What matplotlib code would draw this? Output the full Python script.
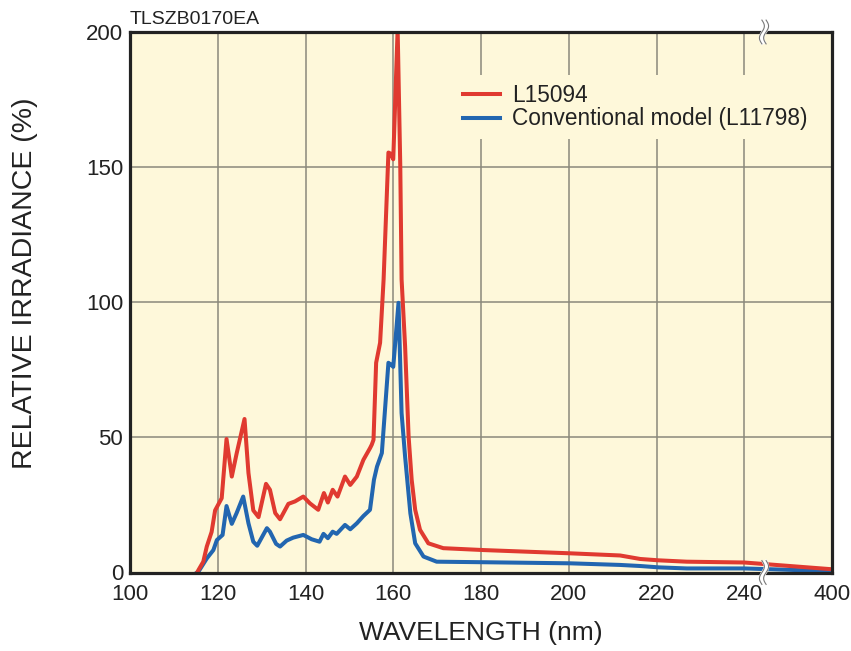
import numpy as np
import matplotlib
matplotlib.use("Agg")
import matplotlib.pyplot as plt

plt.rcParams['font.family'] = ['Liberation Sans', 'DejaVu Sans']

# ---- data ----
red_wl = [115.3, 115.6, 116.7, 117.5, 118.6, 119.4, 120.9, 122.0, 123.2, 124.3, 126.1, 127.0,
          128.1, 129.3, 131.0, 131.9, 133.1, 134.2, 136.1, 137.6, 139.5, 141.0, 142.9, 144.2,
          145.1, 146.2, 147.3, 149.0, 150.2, 151.7, 153.2, 154.7, 155.1, 155.5, 156.1, 157.0,
          157.8, 158.9, 159.4, 160.0, 161.0, 161.6, 161.9, 162.7, 163.5, 164.2, 165.0, 166.1,
          168.0, 171.4, 180.6, 200.3, 211.7, 216.3, 220.5, 226.9, 240.0, 400.0]
red_val = [0.0, 0.9, 4.0, 9.6, 15.0, 23.0, 27.5, 49.4, 35.5, 44.0, 56.8, 36.8,
           23.0, 20.5, 32.8, 30.6, 22.0, 19.7, 25.4, 26.3, 28.1, 25.6, 23.2, 29.4,
           25.9, 30.6, 28.1, 35.5, 32.4, 35.5, 41.7, 46.0, 47.3, 49.1, 77.6, 85.0,
           108.4, 155.4, 155.0, 152.9, 201.0, 150.4, 108.5, 83.7, 50.3, 34.3, 23.2, 15.8,
           10.8, 9.0, 8.3, 7.1, 6.3, 5.0, 4.5, 4.0, 3.7, 1.2]

blue_wl = [115.3, 115.6, 117.5, 119.0, 119.8, 121.1, 122.0, 123.2, 124.3, 125.8, 127.0, 128.1,
           129.0, 131.2, 131.9, 133.3, 134.2, 135.7, 137.2, 139.5, 141.4, 143.2, 144.1, 145.1,
           146.2, 147.1, 149.0, 150.2, 151.7, 153.2, 154.7, 155.6, 156.3, 157.4, 158.9, 159.4,
           160.0, 161.2, 161.9, 162.7, 163.9, 165.0, 166.9, 169.9, 180.6, 200.3, 211.7, 216.3,
           220.5, 226.9, 240.0, 400.0]
blue_val = [0.0, 0.3, 5.2, 8.3, 12.0, 13.9, 24.6, 18.0, 22.0, 28.1, 18.2, 11.4,
            9.9, 16.4, 15.1, 10.6, 9.6, 11.8, 12.9, 13.9, 12.3, 11.4, 14.3, 12.7,
            15.1, 14.3, 17.6, 16.0, 18.2, 20.9, 23.2, 34.3, 39.2, 44.2, 77.6, 77.0,
            76.1, 99.8, 59.0, 42.9, 21.9, 10.8, 5.9, 4.0, 3.8, 3.4, 2.8, 2.4,
            1.9, 1.5, 1.5, 0.5]

x_ticks = [100, 120, 140, 160, 180, 200, 220, 240, 400]
y_ticks = [0, 50, 100, 150, 200]
series_names = ["L15094", "Conventional model (L11798)"]

RED = "#E03A30"
BLUE = "#2266B0"
BG = "#FEF8DA"
GRID = "#8A897C"

# broken axis: linear up to 240, then 240..400 compressed into 20 units
def fwd(x):
    x = np.asarray(x, dtype=float)
    return np.where(x <= 240, x, 240 + (x - 240) * (20.0 / 160.0))

def inv(y):
    y = np.asarray(y, dtype=float)
    return np.where(y <= 240, y, 240 + (y - 240) * (160.0 / 20.0))

fig = plt.figure(figsize=(8.51, 6.51), dpi=100)
ax = fig.add_axes([130/851, 1-572.5/651, 702/851, 540.5/651])
ax.set_facecolor(BG)
ax.set_xscale('function', functions=(fwd, inv))
ax.set_xlim(100, 400)
ax.set_ylim(0, 200)
ax.set_xticks(x_ticks)
ax.set_xticklabels([str(t) for t in x_ticks])
ax.set_yticks(y_ticks)
ax.set_yticklabels([str(t) for t in y_ticks])
ax.xaxis.set_minor_locator(matplotlib.ticker.NullLocator())
ax.tick_params(axis='both', length=0, labelsize=16, colors='#222222')
ax.tick_params(axis='x', pad=8)
ax.tick_params(axis='y', pad=5)

for xv in x_ticks[1:-1]:
    ax.axvline(xv, color=GRID, lw=1.1, zorder=1)
for yv in y_ticks[1:-1]:
    ax.axhline(yv, color=GRID, lw=1.1, zorder=1)

ax.plot(red_wl, red_val, color=RED, lw=2.9, zorder=4, label=series_names[0],
        solid_joinstyle='round')
ax.plot(blue_wl, blue_val, color=BLUE, lw=2.9, zorder=3, label=series_names[1],
        solid_joinstyle='round')

for s in ax.spines.values():
    s.set_linewidth(2.3)
    s.set_color('#222222')
    s.set_zorder(6)

leg = ax.legend(loc='upper left', bbox_to_anchor=(0.4615, 0.921), borderaxespad=0,
                fontsize=16.3, handlelength=1.64, handletextpad=0.53, labelspacing=0.03,
                frameon=True, fancybox=False, facecolor=BG, edgecolor='none',
                framealpha=1.0, borderpad=0.4)
leg.set_zorder(5)
for t in leg.get_texts():
    t.set_color('#222222')

ax.set_xlabel("WAVELENGTH (nm)", fontsize=19, color='#222222', labelpad=12)
ax.set_ylabel("RELATIVE IRRADIANCE (%)", fontsize=20.5, color='#222222')
ax.yaxis.set_label_coords(-0.131, (572.5 - 283) / 540.5)

fig.text(130/851, 1-24/651, "TLSZB0170EA", fontsize=14, color='#222222',
         ha='left', va='baseline')

# break marks
bx = (764 - 130) / 702.0
tt = np.linspace(-1, 1, 60)
for yc in (0.0, 1.0):
    ys = yc + tt * 0.022
    xs = bx + 0.0035 * np.sin(np.pi * tt)
    ax.plot(xs, ys, color='white', lw=4.0, transform=ax.transAxes, clip_on=False, zorder=10,
            solid_capstyle='butt')
    for d in (-0.003, 0.003):
        ax.plot(xs + d, ys, color='#777777', lw=0.8, transform=ax.transAxes,
                clip_on=False, zorder=11)

fig.savefig("out.png", dpi=100)
